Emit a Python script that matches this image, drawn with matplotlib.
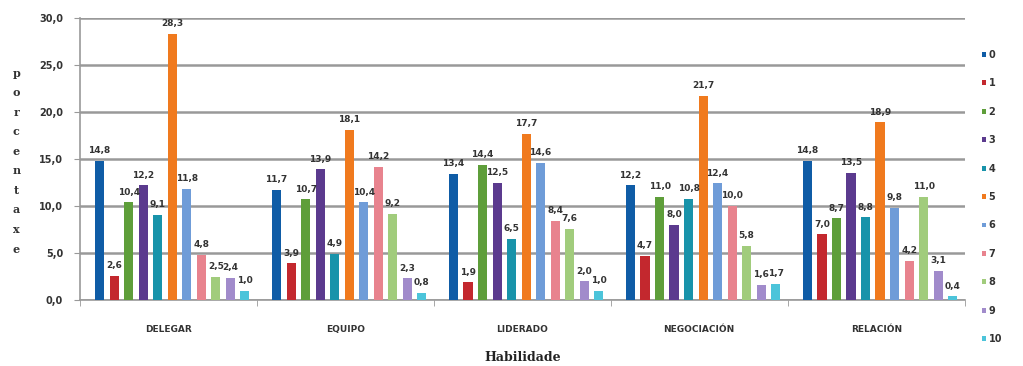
import matplotlib
matplotlib.use("Agg")
import matplotlib.pyplot as plt
import numpy as np
from matplotlib.patches import Patch

categories = ["DELEGAR", "EQUIPO", "LIDERADO", "NEGOCIACIÓN", "RELACIÓN"]
series_names = ["0", "1", "2", "3", "4", "5", "6", "7", "8", "9", "10"]
s0 = [14.8, 11.7, 13.4, 12.2, 14.8]
s1 = [2.6, 3.9, 1.9, 4.7, 7.0]
s2 = [10.4, 10.7, 14.4, 11.0, 8.7]
s3 = [12.2, 13.9, 12.5, 8.0, 13.5]
s4 = [9.1, 4.9, 6.5, 10.8, 8.8]
s5 = [28.3, 18.1, 17.7, 21.7, 18.9]
s6 = [11.8, 10.4, 14.6, 12.4, 9.8]
s7 = [4.8, 14.2, 8.4, 10.0, 4.2]
s8 = [2.5, 9.2, 7.6, 5.8, 11.0]
s9 = [2.4, 2.3, 2.0, 1.6, 3.1]
s10 = [1.0, 0.8, 1.0, 1.7, 0.4]
series = [s0, s1, s2, s3, s4, s5, s6, s7, s8, s9, s10]
yticks = [0, 5, 10, 15, 20, 25, 30]

colors = ["#0F5CA6", "#C3282E", "#5E9E3A", "#5B3A8E", "#1893AA", "#F07A1E",
          "#6F9CD8", "#E8838E", "#A1CC7C", "#A18BCB", "#4CC4DA"]

fig = plt.figure(figsize=(10.23, 3.66), dpi=100)
ax = fig.add_axes([0.078, 0.180, 0.865, 0.771])

x = np.arange(len(categories))
stride = 0.082
width = 0.052
offset = 0.022
n = len(series)
for i, vals in enumerate(series):
    pos = x + offset + (i - (n - 1) / 2) * stride
    bars = ax.bar(pos, vals, width=width, color=colors[i], zorder=3)
    for b, v in zip(bars, vals):
        ax.text(b.get_x() + b.get_width() / 2, v + 0.6,
                f"{v:.1f}".replace(".", ","), ha="center", va="bottom",
                fontsize=6.5, fontweight="bold", color="#333333", zorder=4)

ax.set_xlim(-0.5, len(categories) - 0.5)
ax.set_ylim(0, 30)
ax.set_yticks(yticks)
ax.set_yticklabels([f"{t:.1f}".replace(".", ",") for t in yticks],
                   fontsize=7, fontweight="bold", color="#333333")
ax.yaxis.grid(True, color="#999999", linewidth=1.8, zorder=0)
ax.set_axisbelow(True)

ax.set_xticks(x)
ax.set_xticklabels(categories, fontsize=6.5, fontweight="bold", color="#333333")
ax.tick_params(axis="x", length=0, pad=18)
ax.set_xticks(np.arange(-0.5, len(categories)), minor=True)
ax.tick_params(axis="x", which="minor", length=4, color="#999999")
ax.tick_params(axis="y", length=4, color="#999999", pad=8)

for side in ["top", "right"]:
    ax.spines[side].set_visible(False)
for side in ["left", "bottom"]:
    ax.spines[side].set_color("#999999")
    ax.spines[side].set_linewidth(1.2)

ax.set_xlabel("Habilidade", fontsize=9, fontweight="bold", family="DejaVu Serif",
              color="#222222", labelpad=12)

fig.text(0.016, 0.56, "\n".join("porcentaxe"), ha="center", va="center",
         fontsize=8, fontweight="bold", color="#333333", linespacing=1.95,
         family="DejaVu Serif")

handles = [Patch(facecolor=c, edgecolor="none") for c in colors]
leg = fig.legend(handles, series_names, loc="upper left",
                 bbox_to_anchor=(0.956, 0.875), frameon=False, fontsize=7,
                 labelspacing=1.9, handlelength=0.4, handleheight=0.4,
                 handletextpad=0.3, borderaxespad=0)
for t in leg.get_texts():
    t.set_fontweight("bold")
    t.set_color("#333333")

fig.savefig("out.png", dpi=100)
